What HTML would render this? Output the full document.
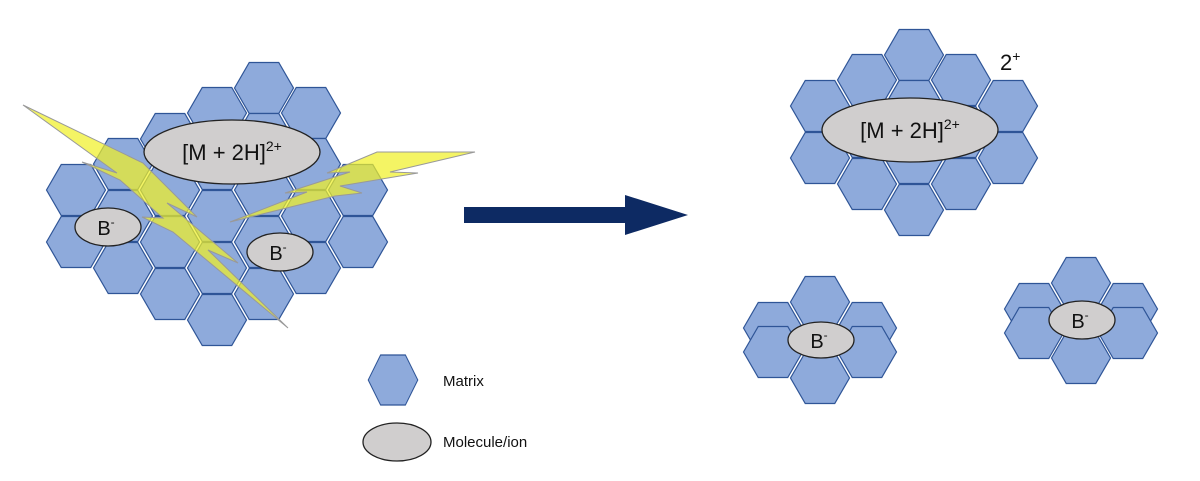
<!DOCTYPE html>
<html><head><meta charset="utf-8"><style>
html,body{margin:0;padding:0;background:#fff}
svg{display:block}
text{font-family:"Liberation Sans",sans-serif;fill:#111}
</style></head><body>
<svg width="1200" height="481" viewBox="0 0 1200 481" xmlns="http://www.w3.org/2000/svg">
<defs>
<polygon id="h" points="-29.5,0 -14.75,-25.5 14.75,-25.5 29.5,0 14.75,25.5 -14.75,25.5" fill="#8eaadb" stroke="#2f5597" stroke-width="1.2"/>
</defs>
<g>
<use href="#h" x="76" y="190"/><use href="#h" x="76" y="242"/>
<use href="#h" x="123" y="164"/><use href="#h" x="123" y="216"/><use href="#h" x="123" y="268"/>
<use href="#h" x="170" y="139"/><use href="#h" x="170" y="190"/><use href="#h" x="170" y="242"/><use href="#h" x="170" y="294"/>
<use href="#h" x="217" y="113"/><use href="#h" x="217" y="164"/><use href="#h" x="217" y="216"/><use href="#h" x="217" y="268"/><use href="#h" x="217" y="320"/>
<use href="#h" x="264" y="88"/><use href="#h" x="264" y="139"/><use href="#h" x="264" y="190"/><use href="#h" x="264" y="242"/><use href="#h" x="264" y="294"/>
<use href="#h" x="311" y="113"/><use href="#h" x="311" y="164"/><use href="#h" x="311" y="216"/><use href="#h" x="311" y="268"/>
<use href="#h" x="358" y="190"/><use href="#h" x="358" y="242"/>
</g>
<ellipse cx="232" cy="152" rx="88" ry="32" fill="#d0cece" stroke="#222" stroke-width="1.3"/>
<text x="232" y="160" font-size="22" text-anchor="middle">[M + 2H]<tspan font-size="14" dy="-9">2+</tspan></text>
<ellipse cx="108" cy="227" rx="33" ry="19" fill="#d0cece" stroke="#222" stroke-width="1.3"/>
<text x="106" y="235" font-size="20" text-anchor="middle">B<tspan font-size="12" dy="-9">-</tspan></text>
<ellipse cx="280" cy="252" rx="33" ry="19" fill="#d0cece" stroke="#222" stroke-width="1.3"/>
<text x="278" y="260" font-size="20" text-anchor="middle">B<tspan font-size="12" dy="-9">-</tspan></text>
<polygon points="23,105 143,163 197,217 167,203 238,263 208,250 288,328 173,232 142,217 163,218 120,180 82,162 117,173" fill="rgba(240,240,40,0.72)" stroke="#999" stroke-width="1"/>
<polygon points="230,222 307,192 285,193 350,172 327,173 377,152 475,152 390,172 418,173 340,186 362,193 335,196" fill="rgba(240,240,40,0.72)" stroke="#999" stroke-width="1"/>
<polygon points="464,207 625,207 625,195 688,215 625,235 625,223 464,223" fill="#0d2a63"/>
<g>
<use href="#h" x="820" y="106"/><use href="#h" x="820" y="158"/>
<use href="#h" x="867" y="80"/><use href="#h" x="867" y="132"/><use href="#h" x="867" y="184"/>
<use href="#h" x="914" y="55"/><use href="#h" x="914" y="106"/><use href="#h" x="914" y="158"/><use href="#h" x="914" y="210"/>
<use href="#h" x="961" y="80"/><use href="#h" x="961" y="132"/><use href="#h" x="961" y="184"/>
<use href="#h" x="1008" y="106"/><use href="#h" x="1008" y="158"/>
</g>
<ellipse cx="910" cy="130" rx="88" ry="32" fill="#d0cece" stroke="#222" stroke-width="1.3"/>
<text x="910" y="138" font-size="22" text-anchor="middle">[M + 2H]<tspan font-size="14" dy="-9">2+</tspan></text>
<text x="1000" y="70" font-size="22">2<tspan font-size="14" dy="-9">+</tspan></text>
<g>
<use href="#h" x="820" y="302"/>
<use href="#h" x="773" y="328"/><use href="#h" x="867" y="328"/>
<use href="#h" x="773" y="352"/><use href="#h" x="867" y="352"/>
<use href="#h" x="820" y="378"/>
</g>
<ellipse cx="821" cy="340" rx="33" ry="18" fill="#d0cece" stroke="#222" stroke-width="1.3"/>
<text x="819" y="348" font-size="20" text-anchor="middle">B<tspan font-size="12" dy="-9">-</tspan></text>
<g>
<use href="#h" x="1081" y="283"/>
<use href="#h" x="1034" y="309"/><use href="#h" x="1128" y="309"/>
<use href="#h" x="1034" y="333"/><use href="#h" x="1128" y="333"/>
<use href="#h" x="1081" y="358"/>
</g>
<ellipse cx="1082" cy="320" rx="33" ry="19" fill="#d0cece" stroke="#222" stroke-width="1.3"/>
<text x="1080" y="328" font-size="20" text-anchor="middle">B<tspan font-size="12" dy="-9">-</tspan></text>
<use href="#h" transform="translate(393,380) scale(0.84,0.98)"/>
<text x="443" y="386" font-size="15">Matrix</text>
<ellipse cx="397" cy="442" rx="34" ry="19" fill="#d0cece" stroke="#222" stroke-width="1.3"/>
<text x="443" y="447" font-size="15">Molecule/ion</text>
</svg>
</body></html>
